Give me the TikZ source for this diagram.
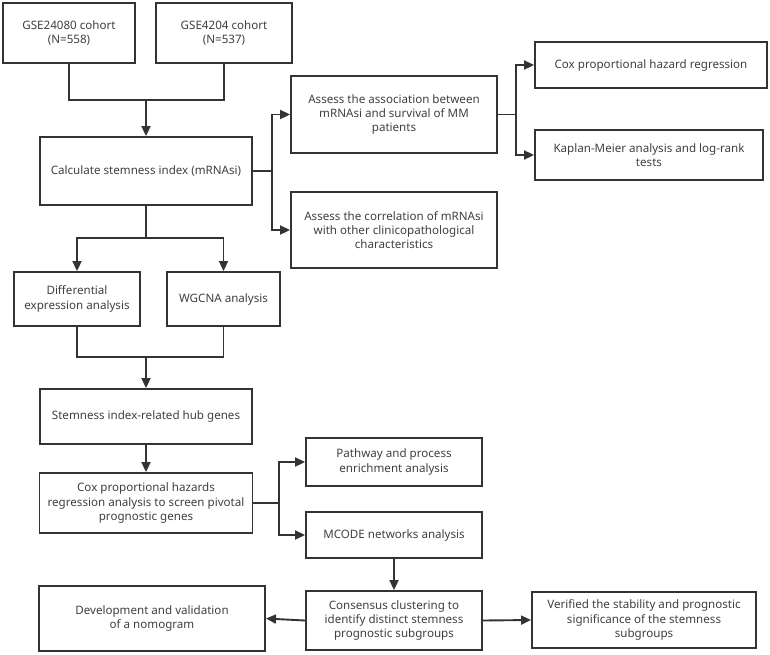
\documentclass[tikz,border=0pt]{standalone}
\usepackage{fontspec}
\setmainfont{Noto Sans}
\usepackage{tikz}
\usetikzlibrary{positioning,arrows.meta,calc}
\definecolor{boxline}{HTML}{333333}
\definecolor{boxtext}{HTML}{404040}
\tikzset{
  stepbox/.style={draw=boxline, line width=1.9pt, fill=white, align=center,
    text=boxtext, font=\fontsize{11.6}{14.2}\selectfont, inner sep=2pt},
  flow/.style={draw=boxline, line width=1.9pt, ->},
  link/.style={draw=boxline, line width=1.9pt}
}

\begin{document}
\begin{tikzpicture}[x=1pt, y=-1pt, >={Triangle[length=10pt,width=9pt]}]
    \useasboundingbox (0,0) rectangle (770,654);

    % data sets
    \node[stepbox, minimum width=132pt, minimum height=60pt] (gse1) at (69,33)
      {GSE24080 cohort\\(N=558)};
    \node[stepbox, minimum width=136pt, minimum height=60pt] (gse2) at (224,33)
      {GSE4204 cohort\\(N=537)};
    \node[stepbox, minimum width=212pt, minimum height=68pt] (calc) at (146,171)
      {Calculate stemness index (mRNAsi)};

    % survival and clinical features
    \node[stepbox, minimum width=206pt, minimum height=77pt] (assoc) at (394,114.5)
      {Assess the association between\\mRNAsi and survival of MM\\patients};
    \node[stepbox, minimum width=206pt, minimum height=76pt] (corr) at (394,230)
      {Assess the correlation of mRNAsi\\with other clinicopathological\\characteristics};
    \node[stepbox, minimum width=232pt, minimum height=46pt] (coxreg) at (651,65)
      {Cox proportional hazard regression};
    \node[stepbox, minimum width=228pt, minimum height=50pt] (km) at (649,155)
      {Kaplan-Meier analysis and log-rank\\tests};

    % hub genes
    \node[stepbox, minimum width=126pt, minimum height=54pt] (diff) at (77,299)
      {Differential\\expression analysis};
    \node[stepbox, minimum width=113pt, minimum height=54pt] (wgcna) at (223.5,299)
      {WGCNA analysis};
    \node[stepbox, minimum width=212pt, minimum height=55pt] (hub) at (146,416.5)
      {Stemness index-related hub genes};
    \node[stepbox, minimum width=213pt, minimum height=60pt] (coxhaz) at (146,503)
      {Cox proportional hazards\\regression analysis to screen pivotal\\prognostic genes};
    \node[stepbox, minimum width=176pt, minimum height=48pt] (path) at (394,462)
      {Pathway and process\\enrichment analysis};
    \node[stepbox, minimum width=176pt, minimum height=46pt] (mcode) at (394,535)
      {MCODE networks analysis};

    % subgroups
    \node[stepbox, minimum width=176pt, minimum height=59pt] (cons) at (394,620.5)
      {Consensus clustering to\\identify distinct stemness\\prognostic subgroups};
    \node[stepbox, minimum width=226pt, minimum height=65pt] (devel) at (152,618.5)
      {Development and validation\\of a nomogram};
    \node[stepbox, minimum width=224pt, minimum height=56pt] (verif) at (644,620)
      {Verified the stability and prognostic\\significance of the stemness\\subgroups};

    % junctions
    \coordinate (j1) at (146,100);
    \coordinate (b1) at (272,171);
    \coordinate (b2) at (516,114.5);
    \coordinate (j2) at (146,238);
    \coordinate (j3) at (146,357);
    \coordinate (b3) at (279,503);

    \draw[link] (gse1.south) |- (j1) -| (gse2.south);
    \draw[flow] (j1) -- (calc.north);

    \draw[link] (calc.east) -- (b1);
    \draw[flow] (b1) |- (assoc.west);
    \draw[flow] (b1) |- (corr.west);

    \draw[link] (assoc.east) -- (b2);
    \draw[flow] (b2) |- (coxreg.west);
    \draw[flow] (b2) |- (km.west);

    \draw[link] (calc.south) -- (j2);
    \draw[flow] (j2) -| (diff.north);
    \draw[flow] (j2) -| (wgcna.north);

    \draw[link] (diff.south) |- (j3) -| (wgcna.south);
    \draw[flow] (j3) -- (hub.north);
    \draw[flow] (hub.south) -- (coxhaz.north);

    \draw[link] (coxhaz.east) -- (b3);
    \draw[flow] (b3) |- (path.west);
    \draw[flow] (b3) |- (mcode.west);

    \draw[flow] (mcode.south) -- (cons.north);
    \draw[flow] (cons.west) -- (devel.east);
    \draw[flow] (cons.east) -- (verif.west);
\end{tikzpicture}
\end{document}
